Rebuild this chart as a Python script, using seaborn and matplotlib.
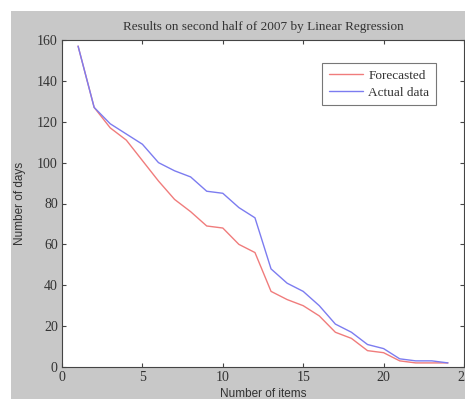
import matplotlib
matplotlib.use("Agg")
import matplotlib.pyplot as plt
import seaborn as sns
import pandas as pd
from matplotlib.patches import Rectangle

items = list(range(1, 25))
actual = [157, 127, 119, 114, 109, 100, 96, 93, 86, 85, 78, 73, 48, 41, 37, 30, 21, 17, 11, 9, 4, 3, 3, 2]
forecast = [157, 127, 117, 111, 101, 91, 82, 76, 69, 68, 60, 56, 37, 33, 30, 25, 17, 14, 8, 7, 3, 2, 2, 2]

df = pd.DataFrame({"items": items, "Forecasted": forecast, "Actual data": actual})
long = df.melt(id_vars="items", var_name="series", value_name="days")

sns.set_style("ticks")
fig = plt.figure(figsize=(4.65, 3.99), dpi=100)
fig.patch.set_facecolor("white")
fig.patches.append(Rectangle((11 / 465, 0), 1 - 11 / 465, (399 - 11) / 399,
                             transform=fig.transFigure, facecolor="#c8c8c8",
                             edgecolor="none", zorder=-10))
ax = fig.add_axes([62 / 465, (399 - 367) / 399, 402 / 465, 327 / 399])
ax.set_facecolor("white")

sns.lineplot(data=long, x="items", y="days", hue="series",
             palette={"Forecasted": "#f07c7c", "Actual data": "#7c7cf0"},
             linewidth=1.0, ax=ax, legend=True)

ax.set_xlim(0, 25)
ax.set_ylim(0, 160)
ax.set_xticks([0, 5, 10, 15, 20, 25])
ax.set_yticks(range(0, 161, 20))
ax.tick_params(direction="in", length=3, top=True, right=True, labelsize=10,
               colors="#444444", labelcolor="#333333", pad=3)
for lab in ax.get_xticklabels() + ax.get_yticklabels():
    lab.set_family("Liberation Serif")
for s in ax.spines.values():
    s.set_color("#444444")
    s.set_linewidth(0.8)
    s.set_visible(True)

ax.set_xlabel("Number of items", fontsize=8.5, family="Liberation Sans", color="#333333", labelpad=3)
ax.set_ylabel("Number of days", fontsize=8.5, family="Liberation Sans", color="#333333", labelpad=8)
ax.set_title("Results on second half of 2007 by Linear Regression", fontsize=9.5,
             family="Liberation Serif", color="#333333", pad=7)

leg = ax.legend(loc="upper right", bbox_to_anchor=(0.93, 0.93), frameon=True,
                fancybox=False, prop={"family": "Liberation Serif", "size": 9.5},
                handlelength=2.6, handletextpad=0.4, borderpad=0.5, labelspacing=0.35,
                borderaxespad=0)
leg.get_frame().set_edgecolor("#555555")
leg.get_frame().set_linewidth(0.8)
for t in leg.get_texts():
    t.set_color("#333333")

fig.savefig("out.png", dpi=100)
